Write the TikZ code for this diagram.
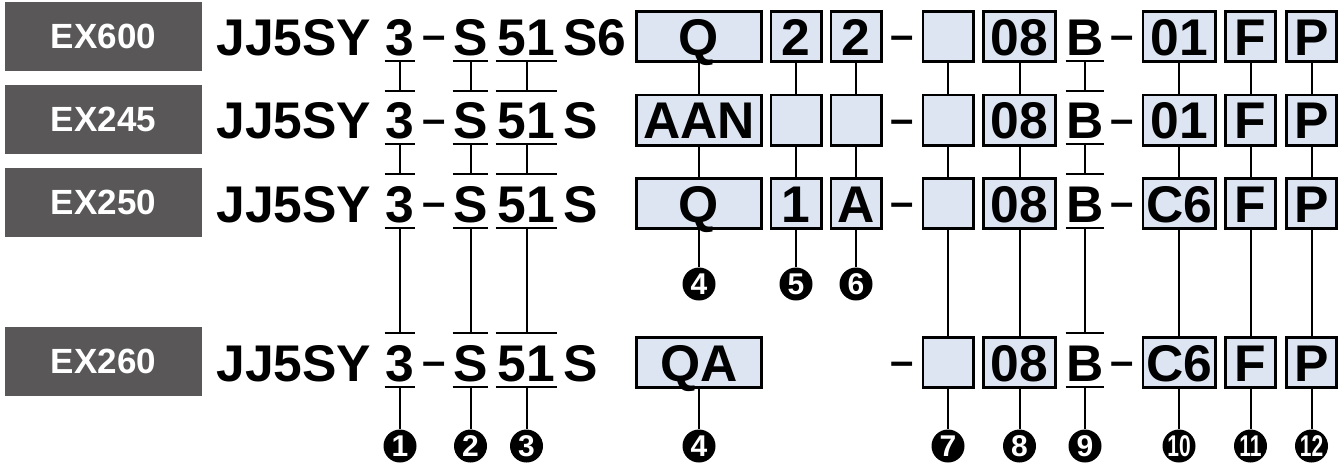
\documentclass[tikz,border=0pt]{standalone}
\usepackage{fontspec}
\setmainfont{Liberation Sans}
\newfontfamily\narrowfont[FakeStretch=0.7]{Liberation Sans}
\usetikzlibrary{positioning}
\definecolor{modelgray}{HTML}{595757}
\definecolor{cellblue}{HTML}{DDE5F3}

\begin{document}
\begin{tikzpicture}[x=0.5pt,y=-0.5pt,
	model/.style={fill=modelgray,text=white,font=\fontsize{17.5}{18}\selectfont\bfseries,minimum width=98.5pt,minimum height=34.5pt,inner sep=0pt},
	code/.style={font=\fontsize{25.8}{26}\selectfont\bfseries,inner sep=0pt,anchor=base},
	uline/.style={code,text height=23.75pt,text depth=2.75pt},
	hyph/.style={code,font=\fontsize{21}{21}\selectfont\bfseries,yshift=2.65pt},
	cell/.style={draw,line width=1.3pt,fill=cellblue,font=\fontsize{25.8}{26}\selectfont\bfseries,inner sep=0pt,text height=18.5pt,text depth=0pt,minimum height=25.2pt},
	wide/.style={cell,minimum width=62.7pt},
	mid/.style={cell,minimum width=36.2pt},
	slim/.style={cell,minimum width=25.2pt},
	knob/.style={circle,fill=black,text=white,inner sep=0pt,minimum size=16.5pt,font=\fontsize{15}{15}\selectfont\bfseries},
	twin/.style={knob,font=\narrowfont\fontsize{15}{15}\selectfont\bfseries},
	lead/.style={line width=1pt},
	tick/.style={line width=1pt}]
	\useasboundingbox (0,0) rectangle (1344,463);

	% EX600
	\node[model] (ex1) at (103.5,36.5) {EX600};
	\node[code,anchor=base west] (jj1) at (216,55) {JJ5SY}; \node[uline,minimum width=15pt] (th1) at (400,55) {3}; \node[hyph] (da1) at (434,55) {–};
	\node[uline,minimum width=17.5pt] (es1) at (470.5,55) {S}; \node[uline,minimum width=30.5pt] (fo1) at (526.5,55) {51}; \node[code,anchor=base west] (tl1) at (563,55) {S6};
	\node[wide] (qq1) at (699,36.5) {Q}; \node[slim] (ta1) at (796,36.5) {2}; \node[slim] (tb1) at (856,36.5) {2}; \node[hyph] (db1) at (902.5,55) {–};
	\node[slim] (em1) at (948,36.5) {}; \node[mid] (ze1) at (1019.5,36.5) {08}; \node[uline,minimum width=19pt] (be1) at (1085,55) {B}; \node[hyph] (dc1) at (1122.5,55) {–};
	\node[mid] (oc1) at (1179,36.5) {01}; \node[slim] (ff1) at (1250.5,36.5) {F}; \node[slim] (pp1) at (1311.5,36.5) {P};

	% EX245
	\node[model] (ex2) at (103.5,119.5) {EX245};
	\node[code,anchor=base west] (jj2) at (216,138.5) {JJ5SY}; \node[uline,minimum width=15pt] (th2) at (400,138.5) {3}; \node[hyph] (da2) at (434,138.5) {–};
	\node[uline,minimum width=17.5pt] (es2) at (470.5,138.5) {S}; \node[uline,minimum width=30.5pt] (fo2) at (526.5,138.5) {51}; \node[code,anchor=base west] (tl2) at (563,138.5) {S};
	\node[wide] (qq2) at (699,120) {AAN}; \node[slim] (ta2) at (796,120) {}; \node[slim] (tb2) at (856,120) {}; \node[hyph] (db2) at (902.5,138.5) {–};
	\node[slim] (em2) at (948,120) {}; \node[mid] (ze2) at (1019.5,120) {08}; \node[uline,minimum width=19pt] (be2) at (1085,138.5) {B}; \node[hyph] (dc2) at (1122.5,138.5) {–};
	\node[mid] (oc2) at (1179,120) {01}; \node[slim] (ff2) at (1250.5,120) {F}; \node[slim] (pp2) at (1311.5,120) {P};

	% EX250
	\node[model] (ex3) at (103.5,202.5) {EX250};
	\node[code,anchor=base west] (jj3) at (216,222) {JJ5SY}; \node[uline,minimum width=15pt] (th3) at (400,222) {3}; \node[hyph] (da3) at (434,222) {–};
	\node[uline,minimum width=17.5pt] (es3) at (470.5,222) {S}; \node[uline,minimum width=30.5pt] (fo3) at (526.5,222) {51}; \node[code,anchor=base west] (tl3) at (563,222) {S};
	\node[wide] (qq3) at (699,203.5) {Q}; \node[slim] (ta3) at (796,203.5) {1}; \node[slim] (tb3) at (856,203.5) {A}; \node[hyph] (db3) at (902.5,222) {–};
	\node[slim] (em3) at (948,203.5) {}; \node[mid] (ze3) at (1019.5,203.5) {08}; \node[uline,minimum width=19pt] (be3) at (1085,222) {B}; \node[hyph] (dc3) at (1122.5,222) {–};
	\node[mid] (oc3) at (1179,203.5) {C6}; \node[slim] (ff3) at (1250.5,203.5) {F}; \node[slim] (pp3) at (1311.5,203.5) {P};

	% EX260
	\node[model] (ex4) at (103.5,361.5) {EX260};
	\node[code,anchor=base west] (jj4) at (216,381) {JJ5SY}; \node[uline,minimum width=15pt] (th4) at (400,381) {3}; \node[hyph] (da4) at (434,381) {–};
	\node[uline,minimum width=17.5pt] (es4) at (470.5,381) {S}; \node[uline,minimum width=30.5pt] (fo4) at (526.5,381) {51}; \node[code,anchor=base west] (tl4) at (563,381) {S};
	\node[wide] (qq4) at (699,362.5) {QA}; \node[hyph] (db4) at (902.5,381) {–};
	\node[slim] (em4) at (948,362.5) {}; \node[mid] (ze4) at (1019.5,362.5) {08}; \node[uline,minimum width=19pt] (be4) at (1085,381) {B}; \node[hyph] (dc4) at (1122.5,381) {–};
	\node[mid] (oc4) at (1179,362.5) {C6}; \node[slim] (ff4) at (1250.5,362.5) {F}; \node[slim] (pp4) at (1311.5,362.5) {P};

	% numbers
	\node[knob] (k4a) at (699,284) {4}; \node[knob] (k5) at (796,284) {5}; \node[knob] (k6) at (856,284) {6};
	\node[knob] (k1) at (400,446) {1}; \node[knob] (k2) at (470.5,446) {2}; \node[knob] (k3) at (526.5,446) {3}; \node[knob] (k4) at (699,446) {4};
	\node[knob] (k7) at (948,446) {7}; \node[knob] (k8) at (1019.5,446) {8}; \node[knob] (k9) at (1085,446) {9};
	\node[twin] (k10) at (1179,446) {10}; \node[twin] (k11) at (1250.5,446) {11}; \node[twin] (k12) at (1311.5,446) {12};

	% underlines
	\draw[tick] (th1.south west) -- (th1.south east) (es1.south west) -- (es1.south east) (fo1.south west) -- (fo1.south east) (be1.south west) -- (be1.south east);
	\draw[tick] (th2.north west) -- (th2.north east) (es2.north west) -- (es2.north east) (fo2.north west) -- (fo2.north east) (be2.north west) -- (be2.north east);
	\draw[tick] (th2.south west) -- (th2.south east) (es2.south west) -- (es2.south east) (fo2.south west) -- (fo2.south east) (be2.south west) -- (be2.south east);
	\draw[tick] (th3.north west) -- (th3.north east) (es3.north west) -- (es3.north east) (fo3.north west) -- (fo3.north east) (be3.north west) -- (be3.north east);
	\draw[tick] (th3.south west) -- (th3.south east) (es3.south west) -- (es3.south east) (fo3.south west) -- (fo3.south east) (be3.south west) -- (be3.south east);
	\draw[tick] (th4.north west) -- (th4.north east) (es4.north west) -- (es4.north east) (fo4.north west) -- (fo4.north east) (be4.north west) -- (be4.north east);
	\draw[tick] (th4.south west) -- (th4.south east) (es4.south west) -- (es4.south east) (fo4.south west) -- (fo4.south east) (be4.south west) -- (be4.south east);

	% leads
	\draw[lead] (th1) -- (th2) (es1) -- (es2) (fo1) -- (fo2) (qq1) -- (qq2) (ta1) -- (ta2) (tb1) -- (tb2) (em1) -- (em2) (ze1) -- (ze2) (be1) -- (be2) (oc1) -- (oc2) (ff1) -- (ff2) (pp1) -- (pp2);
	\draw[lead] (th2) -- (th3) (es2) -- (es3) (fo2) -- (fo3) (qq2) -- (qq3) (ta2) -- (ta3) (tb2) -- (tb3) (em2) -- (em3) (ze2) -- (ze3) (be2) -- (be3) (oc2) -- (oc3) (ff2) -- (ff3) (pp2) -- (pp3);
	\draw[lead] (qq3) -- (k4a) (ta3) -- (k5) (tb3) -- (k6);
	\draw[lead] (th3) -- (th4) (es3) -- (es4) (fo3) -- (fo4) (em3) -- (em4) (ze3) -- (ze4) (be3) -- (be4) (oc3) -- (oc4) (ff3) -- (ff4) (pp3) -- (pp4);
	\draw[lead] (th4) -- (k1) (es4) -- (k2) (fo4) -- (k3) (qq4) -- (k4) (em4) -- (k7) (ze4) -- (k8) (be4) -- (k9) (oc4) -- (k10) (ff4) -- (k11) (pp4) -- (k12);
\end{tikzpicture}
\end{document}
